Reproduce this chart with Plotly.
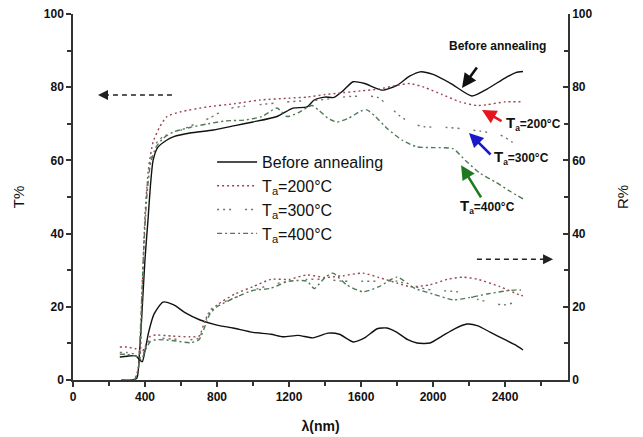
import plotly.graph_objects as go

# ---- Transmittance (left axis, T%) ----
t_before_x = [270, 330, 355, 370, 385, 400, 417, 430, 445, 470, 520, 560, 650, 780, 900, 1000, 1133, 1222, 1300, 1340, 1400, 1450, 1500, 1556, 1620, 1717, 1800, 1870, 1928, 2000, 2100, 2216, 2300, 2400, 2460, 2500]
t_before_y = [0, 0, 0.5, 8, 20, 33, 44, 53, 60, 63.5, 65.5, 66.5, 67.5, 68.3, 69.5, 70.5, 72, 74.3, 74.6, 76.5, 77.3, 77.2, 79, 81.5, 81, 79.2, 80.5, 83, 84.2, 83.5, 81, 77.6, 79.5, 82.5, 84, 84.3]

t_200_x = [270, 340, 370, 385, 400, 420, 445, 480, 522, 600, 744, 900, 1039, 1200, 1300, 1400, 1500, 1600, 1700, 1800, 1872, 1950, 2050, 2150, 2244, 2300, 2400, 2500]
t_200_y = [0, 0, 5, 25, 45, 58, 65, 69, 72, 73.3, 74.6, 75.5, 76.5, 77, 77.3, 78, 78.5, 79, 79.5, 80.5, 81, 80, 78, 76, 75, 75.2, 76, 76]

t_300_x = [270, 340, 365, 380, 395, 410, 430, 460, 500, 578, 680, 761, 850, 950, 1050, 1150, 1250, 1372, 1450, 1550, 1689, 1750, 1820, 1889, 1950, 2078, 2150, 2261, 2372, 2440, 2500]
t_300_y = [0, 0, 3, 20, 38, 52, 60, 64.5, 66.5, 67.8, 70, 71.6, 74, 74.8, 75.3, 75.8, 76.2, 76.5, 77, 77.5, 77.3, 75, 72, 70, 69.2, 69, 68.7, 68, 67, 65, 63]

t_400_x = [270, 340, 362, 378, 393, 410, 430, 460, 500, 560, 650, 750, 850, 950, 1050, 1133, 1189, 1250, 1328, 1370, 1417, 1467, 1530, 1600, 1633, 1680, 1750, 1830, 1911, 2000, 2111, 2180, 2261, 2350, 2430, 2500]
t_400_y = [0, 0, 3, 18, 36, 50, 59, 63.5, 66, 67.8, 69, 70, 70.8, 71, 72, 74.3, 72, 73, 75, 73.5, 71.5, 70.5, 71.5, 73.5, 73.8, 72, 68.5, 65.5, 63.7, 63.5, 63.2, 60, 56.5, 54, 51.5, 49.5]

# ---- Reflectance (right axis, R%) ----
r_before_x = [260, 300, 350, 370, 385, 400, 420, 450, 500, 560, 620, 706, 800, 889, 1000, 1100, 1167, 1250, 1333, 1417, 1480, 1556, 1620, 1690, 1744, 1800, 1860, 1911, 1983, 2050, 2120, 2189, 2250, 2320, 2400, 2460, 2500]
r_before_y = [6.3, 6.5, 6.6, 5.5, 5, 8, 13, 18, 21.3, 20.5, 18.5, 16.4, 15, 14.2, 13, 12.5, 11.8, 12.2, 11.5, 12.8, 12.5, 10.4, 11.5, 14, 14.2, 13, 11, 10.1, 10.1, 12, 14, 15.3, 14.8, 13, 11, 9.5, 8.2]

r_200_x = [260, 300, 350, 380, 400, 430, 460, 550, 650, 700, 740, 800, 900, 1000, 1100, 1200, 1300, 1400, 1500, 1611, 1700, 1800, 1872, 1983, 2080, 2167, 2250, 2372, 2483, 2500]
r_200_y = [9, 9, 8.5, 7.5, 9, 12, 12.3, 12, 11.8, 12, 17, 20.5, 23.5, 25.5, 27.5, 27.5, 28.7, 28, 28.5, 29.2, 28, 26.5, 25.5, 26, 27.5, 28.1, 27.5, 25.5, 23.2, 23]

r_300_x = [260, 300, 350, 380, 400, 430, 460, 550, 650, 700, 760, 800, 900, 1000, 1100, 1200, 1300, 1400, 1500, 1600, 1700, 1800, 1900, 2000, 2133, 2250, 2389, 2450, 2500]
r_300_y = [7.5, 7.5, 7, 6, 8.5, 11, 11.5, 11.2, 11, 11.5, 19, 20.5, 22.5, 24.5, 26, 27, 27.5, 27.5, 27, 27, 27, 27, 25.5, 24.5, 24.1, 22, 20.5, 21, 20]

r_400_x = [260, 300, 350, 380, 400, 430, 460, 550, 650, 700, 760, 800, 900, 1000, 1094, 1200, 1300, 1340, 1400, 1444, 1520, 1611, 1700, 1800, 1900, 2000, 2111, 2200, 2300, 2400, 2483, 2500]
r_400_y = [7, 7, 6.5, 5.5, 8, 10.5, 11, 10.8, 10.2, 11, 18, 20, 22.5, 24.5, 25, 27, 27, 25, 28, 29.2, 26, 24.1, 25.5, 28.1, 25, 23.5, 21.9, 22.5, 23.5, 24.3, 24.6, 24]

legend_names = ["Before annealing", "T<sub>a</sub>=200°C", "T<sub>a</sub>=300°C", "T<sub>a</sub>=400°C"]
x_ticks = [0, 400, 800, 1200, 1600, 2000, 2400]
y_ticks = [0, 20, 40, 60, 80, 100]

FONT = "Liberation Sans, Arial, sans-serif"
styles = [
    dict(color="#111111", width=1.4, dash="solid", shape="spline", smoothing=0.6),
    dict(color="#9a4550", width=1.4, dash="2px,3px", shape="spline", smoothing=0.6),
    dict(color="#6c7470", width=1.4, dash="2px,4px,2px,4px,2px,14px", shape="spline", smoothing=0.6),
    dict(color="#4e7a56", width=1.4, dash="5px,3px,2px,3px", shape="spline", smoothing=0.6),
]

fig = go.Figure()
t_sets = [(t_before_x, t_before_y), (t_200_x, t_200_y), (t_300_x, t_300_y), (t_400_x, t_400_y)]
r_sets = [(r_before_x, r_before_y), (r_200_x, r_200_y), (r_300_x, r_300_y), (r_400_x, r_400_y)]
for (xs, ys), st, nm in zip(t_sets, styles, legend_names):
    fig.add_trace(go.Scatter(x=xs, y=ys, mode="lines", line=st, name=nm, yaxis="y"))
for (xs, ys), st, nm in zip(r_sets, styles, legend_names):
    fig.add_trace(go.Scatter(x=xs, y=ys, mode="lines", line=st, name=nm, yaxis="y2", showlegend=False))

tickfont = dict(family=FONT, size=12, color="#111111", weight="bold")

fig.update_layout(
    width=643, height=437,
    margin=dict(l=73, r=75, t=14, b=57),
    paper_bgcolor="white", plot_bgcolor="white",
    font=dict(family=FONT, color="#111111"),
    showlegend=True,
    legend=dict(x=0.281, y=0.642, xanchor="left", yanchor="top", bgcolor="rgba(0,0,0,0)",
                font=dict(family=FONT, size=16, color="#111111"), tracegroupgap=0,
                itemwidth=40),
    xaxis=dict(range=[0, 2750], tickvals=x_ticks, showgrid=False, zeroline=False, automargin=False,
               showline=True, linecolor="#333333", linewidth=1.5, ticklabeloverflow="allow",
               ticks="outside", ticklen=5, tickwidth=1.5, tickcolor="#333333",
               minor=dict(dtick=200, tick0=0, ticks="outside", ticklen=4, tickwidth=1.5, tickcolor="#333333"),
               tickfont=tickfont,
               title=dict(text="λ(nm)", font=dict(family=FONT, size=14, color="#111111", weight="bold"), standoff=18)),
    yaxis=dict(range=[0, 100], tickvals=y_ticks, showgrid=False, zeroline=False, automargin=False,
               showline=True, linecolor="#333333", linewidth=1.5, ticklabeloverflow="allow",
               ticks="outside", ticklen=5, tickwidth=1.5, tickcolor="#333333",
               minor=dict(dtick=10, tick0=0, ticks="outside", ticklen=4, tickwidth=1.5, tickcolor="#333333"),
               tickfont=tickfont,
               title=dict(text="T%", font=dict(family=FONT, size=15, color="#111111"), standoff=16)),
    yaxis2=dict(range=[0, 100], tickvals=y_ticks, overlaying="y", side="right", automargin=False,
                showgrid=False, zeroline=False, ticklabeloverflow="allow",
                showline=True, linecolor="#333333", linewidth=1.5,
                ticks="inside", ticklen=5, tickwidth=1.5, tickcolor="#333333",
                minor=dict(dtick=10, tick0=0, ticks="inside", ticklen=4, tickwidth=1.5, tickcolor="#333333"),
                tickfont=tickfont,
                title=dict(text="R%", font=dict(family=FONT, size=15, color="#111111"), standoff=26)),
)

# Curve-pointing arrows
arrows = [
    (2161, 79.8, 2250, 85.8, "#111111"),
    (2272, 73.8, 2389, 70.5, "#e8141e"),
    (2200, 67.5, 2328, 61.2, "#1a1ac8"),
    (2156, 58.7, 2272, 49.5, "#1e7a1e"),
]
for hx, hy, tx, ty, c in arrows:
    fig.add_annotation(x=hx, y=hy, ax=tx, ay=ty, xref="x", yref="y", axref="x", ayref="y",
                       showarrow=True, arrowhead=2, arrowsize=1.1, arrowwidth=2.6, arrowcolor=c, text="")

labels = [
    (2356, 91.3, "Before annealing", "center"),
    (2395, 70.2, "<span style='font-size:15px'>T</span><sub>a</sub>=200°C", "left"),
    (2325, 60.9, "<span style='font-size:15px'>T</span><sub>a</sub>=300°C", "left"),
    (2140, 47.3, "<span style='font-size:15px'>T</span><sub>a</sub>=400°C", "left"),
]
for x, y, txt, anc in labels:
    fig.add_annotation(x=x, y=y, xref="x", yref="y", text=txt, showarrow=False, xanchor=anc,
                       font=dict(family=FONT, size=12, color="#111111", weight="bold"))

# Dashed axis-pointer arrows
fig.add_shape(type="line", x0=172, x1=550, y0=77.9, y1=77.9, xref="x", yref="y",
              line=dict(color="#222222", width=1.5, dash="5px,4px"))
fig.add_annotation(x=139, y=77.9, ax=180, ay=77.9, xref="x", yref="y", axref="x", ayref="y",
                   showarrow=True, arrowhead=2, arrowsize=1, arrowwidth=2, arrowcolor="#222222", text="")
fig.add_shape(type="line", x0=2244, x1=2630, y0=33, y1=33, xref="x", yref="y",
              line=dict(color="#222222", width=1.5, dash="5px,4px"))
fig.add_annotation(x=2667, y=33, ax=2620, ay=33, xref="x", yref="y", axref="x", ayref="y",
                   showarrow=True, arrowhead=2, arrowsize=1, arrowwidth=2, arrowcolor="#222222", text="")

fig.write_html("out.html", config={"displayModeBar": False},
               post_script="document.body.style.margin='0';")
